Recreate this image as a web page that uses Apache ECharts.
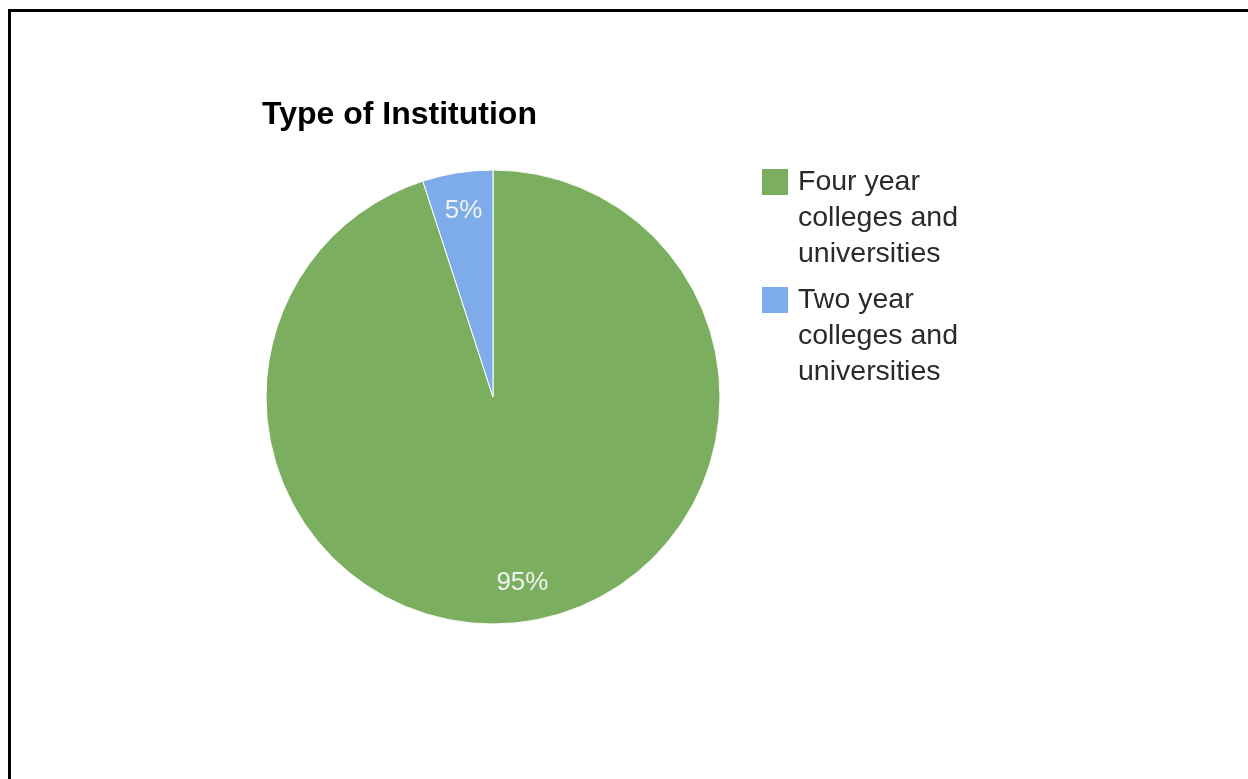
<!DOCTYPE html>
<html>
<head>
<meta charset="utf-8">
<script src="https://cdn.jsdelivr.net/npm/echarts@6/dist/echarts.min.js"></script>
<style>
html,body{margin:0;padding:0;background:#fff;}
#chart{width:1248px;height:779px;}
</style>
</head>
<body>
<div id="chart"></div>
<script>
var title = 'Type of Institution';
var categories = ['Four year\ncolleges and\nuniversities', 'Two year\ncolleges and\nuniversities'];
var values = [95, 5];
var colors = ['#7baf5f', '#7eacea'];

var data = categories.map(function (c, i) {
  return { name: c, value: values[i], itemStyle: { color: colors[i] } };
});

var chart = echarts.init(document.getElementById('chart'), null, { renderer: 'canvas' });
chart.setOption({
  backgroundColor: '#ffffff',
  animation: false,
  title: {
    text: title,
    left: 262,
    top: 99,
    padding: 0,
    textStyle: {
      fontFamily: 'Liberation Sans, Arial, sans-serif',
      fontWeight: 'bold',
      fontSize: 32,
      color: '#000'
    }
  },
  legend: {
    orient: 'vertical',
    left: 760,
    top: 92,
    padding: 0,
    itemGap: -62,
    itemWidth: 28,
    itemHeight: 28,
    icon: 'rect',
    data: categories,
    selectedMode: false,
    formatter: function (name) { return '\n\n' + name; },
    textStyle: {
      fontFamily: 'Liberation Sans, Arial, sans-serif',
      fontSize: 28.5,
      lineHeight: 36,
      color: '#2a2a2a',
      padding: [0, 0, 0, 4]
    }
  },
  graphic: [
    { type: 'rect', shape: { x: 8, y: 9, width: 1240, height: 3 }, style: { fill: '#000' } },
    { type: 'rect', shape: { x: 8, y: 9, width: 3, height: 770 }, style: { fill: '#000' } }
  ],
  series: [
    {
      type: 'pie',
      center: [493, 397],
      radius: [0, 227],
      startAngle: 90,
      clockwise: true,
      silent: true,
      label: { show: false },
      labelLine: { show: false },
      itemStyle: { borderColor: '#ffffff', borderWidth: 1 },
      data: data
    },
    {
      type: 'pie',
      center: [493, 397],
      radius: [143, 227],
      startAngle: 90,
      clockwise: true,
      silent: true,
      itemStyle: { color: 'rgba(0,0,0,0)', borderWidth: 0 },
      label: {
        show: true,
        position: 'inside',
        formatter: function (p) { return p.value + '%'; },
        fontFamily: 'Liberation Sans, Arial, sans-serif',
        fontSize: 26,
        color: '#f2f2f2'
      },
      labelLine: { show: false },
      data: categories.map(function (c, i) { return { name: c, value: values[i] }; })
    }
  ]
});
</script>
</body>
</html>
